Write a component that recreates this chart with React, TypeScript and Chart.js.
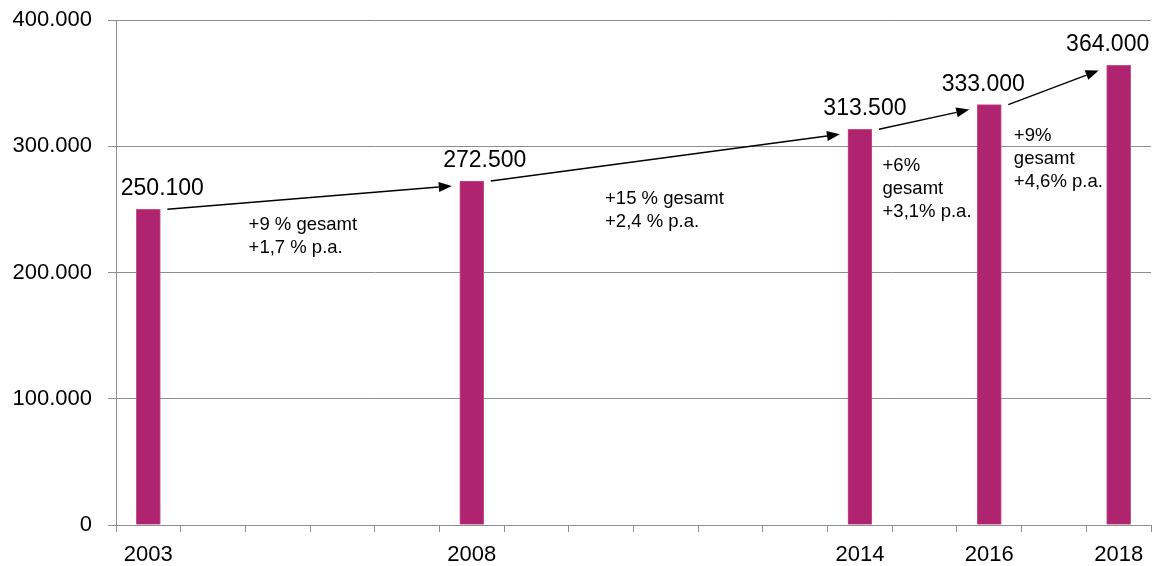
import { useEffect, useRef } from 'react';
import { Chart, registerables } from 'chart.js';

Chart.register(...registerables);

// Every year on the axis; only the survey years carry a bar and a label.
const years = [
  '2003', '2004', '2005', '2006', '2007', '2008', '2009', '2010',
  '2011', '2012', '2013', '2014', '2015', '2016', '2017', '2018',
];
const surveyYears = ['2003', '2008', '2014', '2016', '2018'];
const surveyValues = [250100, 272500, 313500, 333000, 364000];

// Growth notes between two survey years.
const growthNotes = [
  ['+9 % gesamt', '+1,7 % p.a.'],
  ['+15 % gesamt', '+2,4 % p.a.'],
  ['+6%', 'gesamt', '+3,1% p.a.'],
  ['+9%', 'gesamt', '+4,6% p.a.'],
];

const yTicks = [0, 100000, 200000, 300000, 400000];

const FONT = '"Liberation Sans", Arial, Helvetica, sans-serif';
const BAR_COLOR = '#B0246F';
const GRID_COLOR = '#8E8E8E';

const fmt = (n: number) => String(n).replace(/\B(?=(\d{3})+(?!\d))/g, '.');

const seriesData = years.map((y) => {
  const i = surveyYears.indexOf(y);
  return i >= 0 ? surveyValues[i] : null;
});

// Where each growth note starts (category index, value at first line).
const noteAnchors = [
  { i: 1.55, v: 237600 },
  { i: 7.06, v: 258200 },
  { i: 11.35, v: 284400 },
  { i: 13.38, v: 308100 },
];
// Small horizontal nudges for the value labels above the bars.
const labelNudge = [14, 13, 5, -6, -11];

const growthPlugin = {
  id: 'growthAnnotations',
  afterDatasetsDraw(chart: any) {
    const { ctx, scales } = chart;
    const meta = chart.getDatasetMeta(0);
    const bars = surveyYears.map((y) => meta.data[years.indexOf(y)]);

    ctx.save();
    // value labels
    ctx.fillStyle = '#000';
    ctx.font = `23px ${FONT}`;
    ctx.textAlign = 'center';
    ctx.textBaseline = 'alphabetic';
    bars.forEach((b: any, k: number) => {
      ctx.fillText(fmt(surveyValues[k]), b.x + labelNudge[k], b.y - 14);
    });

    // arrows from one bar to the next
    ctx.strokeStyle = '#000';
    ctx.lineWidth = 1.4;
    for (let k = 0; k < bars.length - 1; k++) {
      const a: any = bars[k];
      const b: any = bars[k + 1];
      const x1 = a.x + a.width / 2 + 7;
      const y1 = a.y;
      const x2 = b.x - b.width / 2 - 8;
      const y2 = b.y + 5;
      const ang = Math.atan2(y2 - y1, x2 - x1);
      const head = 13;
      const half = 5;
      const bx = x2 - head * Math.cos(ang);
      const by = y2 - head * Math.sin(ang);
      ctx.beginPath();
      ctx.moveTo(x1, y1);
      ctx.lineTo(bx, by);
      ctx.stroke();
      ctx.beginPath();
      ctx.moveTo(x2, y2);
      ctx.lineTo(bx + half * Math.sin(ang), by - half * Math.cos(ang));
      ctx.lineTo(bx - half * Math.sin(ang), by + half * Math.cos(ang));
      ctx.closePath();
      ctx.fillStyle = '#000';
      ctx.fill();
    }

    // growth notes
    ctx.font = `18.5px ${FONT}`;
    ctx.textAlign = 'left';
    ctx.textBaseline = 'middle';
    growthNotes.forEach((lines, k) => {
      const x = scales.x.getPixelForValue(noteAnchors[k].i);
      const y = scales.y.getPixelForValue(noteAnchors[k].v);
      lines.forEach((t, j) => ctx.fillText(t, x, y + j * 23));
    });
    ctx.restore();
  },
};

export default function App() {
  const ref = useRef<HTMLCanvasElement>(null);

  useEffect(() => {
    if (!ref.current) return;
    const chart = new Chart(ref.current, {
      type: 'bar',
      data: {
        labels: years,
        datasets: [
          {
            data: seriesData,
            backgroundColor: BAR_COLOR,
            borderColor: '#C4508C',
            borderWidth: 1,
            barThickness: 24,
          },
        ],
      },
      options: {
        animation: false,
        responsive: true,
        maintainAspectRatio: false,
        layout: { padding: { top: 20, right: 5, bottom: 0, left: 0 } },
        plugins: {
          legend: { display: false },
          tooltip: { enabled: false },
        },
        scales: {
          x: {
            grid: {
              offset: true,
              drawOnChartArea: false,
              drawTicks: true,
              tickLength: 7,
              color: GRID_COLOR,
            },
            border: { color: GRID_COLOR },
            ticks: {
              autoSkip: false,
              maxRotation: 0,
              padding: 10,
              color: '#000',
              font: { family: FONT, size: 22 },
              callback: (_v: any, i: number) =>
                surveyYears.includes(years[i]) ? years[i] : '',
            },
            afterFit: (s: any) => {
              s.height = 41;
            },
          },
          y: {
            min: 0,
            max: 400000,
            afterBuildTicks: (s: any) => {
              s.ticks = yTicks.map((v) => ({ value: v }));
            },
            grid: { color: GRID_COLOR, tickLength: 8, drawTicks: true },
            border: { color: GRID_COLOR },
            ticks: {
              padding: 16,
              color: '#000',
              font: { family: FONT, size: 22 },
              callback: (v: any) => fmt(Number(v)),
            },
            afterFit: (s: any) => {
              s.width = 116;
              s.paddingTop = 0;
              s.paddingBottom = 0;
            },
          },
        },
      },
      plugins: [growthPlugin],
    });
    return () => chart.destroy();
  }, []);

  return (
    <div style={{ position: 'fixed', left: 0, top: 0, width: 1156, height: 566, background: '#fff' }}>
      <canvas ref={ref} />
    </div>
  );
}
